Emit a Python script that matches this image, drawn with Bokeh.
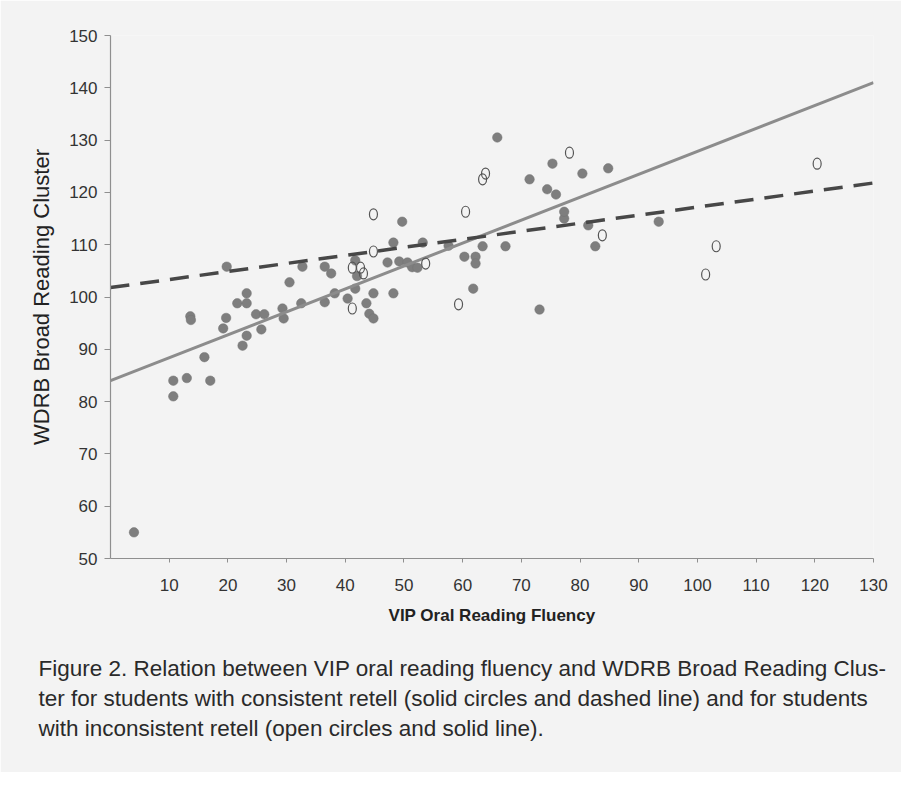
from bokeh.plotting import figure
from bokeh.models import Range1d, FixedTicker, Title
from bokeh.embed import file_html
from bokeh.resources import INLINE

# Consistent retell (solid circles)
cons_x = [4, 10.7, 10.7, 13.0, 17.0, 16.0, 13.6, 13.7, 19.7, 19.2, 22.5, 23.2, 25.7, 24.8, 26.2,
          29.3, 29.5, 21.6, 23.2, 32.5, 23.2, 19.8, 30.5, 32.7, 36.5, 37.6, 36.5, 38.2, 40.4,
          41.7, 42.0, 41.7, 43.6, 44.1, 44.8, 44.8, 48.2, 47.2, 48.2, 49.2, 50.6, 51.4, 52.3,
          49.7, 53.2, 57.6, 63.4, 67.3, 60.3, 62.2, 62.2, 61.8, 73.1, 65.9, 71.4, 75.3, 80.4,
          84.8, 74.4, 75.9, 77.3, 77.3, 81.4, 82.6, 93.4]
cons_y = [55, 84.0, 81.0, 84.5, 84.0, 88.5, 96.3, 95.6, 96.0, 94.0, 90.7, 92.6, 93.8, 96.7, 96.7,
          97.8, 95.9, 98.8, 98.8, 98.8, 100.7, 105.8, 102.8, 105.8, 105.8, 104.5, 99.0, 100.7, 99.7,
          101.6, 104.0, 107.0, 98.8, 96.8, 95.9, 100.7, 100.7, 106.6, 110.4, 106.8, 106.6, 105.7, 105.6,
          114.4, 110.4, 109.8, 109.7, 109.7, 107.7, 107.7, 106.4, 101.6, 97.6, 130.5, 122.5, 125.5, 123.6,
          124.6, 120.6, 119.6, 115.0, 116.3, 113.7, 109.7, 114.4]

# Inconsistent retell (open circles)
incons_x = [44.8, 44.8, 41.2, 42.6, 43.1, 41.2, 53.7, 59.3, 60.5, 63.4, 63.9, 78.2, 83.8, 101.4, 103.2, 120.4]
incons_y = [115.8, 108.7, 105.6, 105.6, 104.5, 97.8, 106.4, 98.6, 116.3, 122.5, 123.6, 127.6, 111.8, 104.3, 109.7, 125.5]

# Regression lines
fit_x = [0, 130]
cons_fit_y = [101.8, 121.8]
incons_fit_y = [84.0, 141.0]

x_ticks = [10, 20, 30, 40, 50, 60, 70, 80, 90, 100, 110, 120, 130]
y_ticks = [50, 60, 70, 80, 90, 100, 110, 120, 130, 140, 150]

caption_lines = [
    "Figure 2. Relation between VIP oral reading fluency and WDRB Broad Reading Clus-",
    "ter for students with consistent retell (solid circles and dashed line) and for students",
    "with inconsistent retell (open circles and solid line).",
]

BG = "#f3f3f3"

p = figure(width=901, height=772, output_backend="svg", toolbar_location=None,
           x_range=Range1d(0, 130), y_range=Range1d(50, 150),
           min_border_left=110, min_border_right=28, min_border_top=35, min_border_bottom=214,
           background_fill_color=BG, border_fill_color=BG)
p.outline_line_color = None
p.grid.visible = False

for ax in (p.xaxis[0], p.yaxis[0]):
    ax.axis_line_color = "#8f8f8f"
    ax.axis_line_width = 1.2
    ax.major_tick_line_color = "#8f8f8f"
    ax.major_tick_in = 0
    ax.minor_tick_line_color = None
    ax.major_label_text_font = "Liberation Sans"
    ax.major_label_text_font_size = "17px"
    ax.major_label_text_color = "#333333"

p.xaxis.ticker = FixedTicker(ticks=x_ticks)
p.yaxis.ticker = FixedTicker(ticks=y_ticks)
p.xaxis.major_tick_out = 4
p.yaxis.major_tick_out = 6
p.xaxis.major_label_standoff = 16
p.yaxis.major_label_standoff = 7

p.xaxis.axis_label = "VIP Oral Reading Fluency"
p.xaxis.axis_label_text_font = "Liberation Sans"
p.xaxis.axis_label_text_font_style = "bold"
p.xaxis.axis_label_text_font_size = "17px"
p.xaxis.axis_label_text_color = "#222222"
p.xaxis.axis_label_standoff = 12

p.yaxis.axis_label = "WDRB Broad Reading Cluster"
p.yaxis.axis_label_text_font = "Liberation Sans"
p.yaxis.axis_label_text_font_style = "normal"
p.yaxis.axis_label_text_font_size = "22px"
p.yaxis.axis_label_text_color = "#222222"
p.yaxis.axis_label_standoff = 12

p.scatter(cons_x, cons_y, size=9.5, fill_color="#7e7e7e", line_color="#727272", line_width=0.5)

p.line(fit_x, incons_fit_y, line_color="#8c8c8c", line_width=3)
p.line(fit_x, cons_fit_y, line_color="#474747", line_width=3.5, line_dash="19 11")

p.ellipse(incons_x, incons_y, width=8, height=11, width_units="screen", height_units="screen",
          fill_color=None, line_color="#555555", line_width=1.2)

# spacer between axis title and caption
p.add_layout(Title(text=" ", text_font_size="16px", standoff=6), "below")

for i, line in enumerate(caption_lines):
    t = Title(text=line, align="left", offset=-72, text_font="Liberation Sans",
              text_font_size="22.5px", text_font_style="normal", text_color="#2a2a2a",
              standoff=3)
    p.add_layout(t, "below")

open("out.html", "w").write(file_html(p, INLINE))
